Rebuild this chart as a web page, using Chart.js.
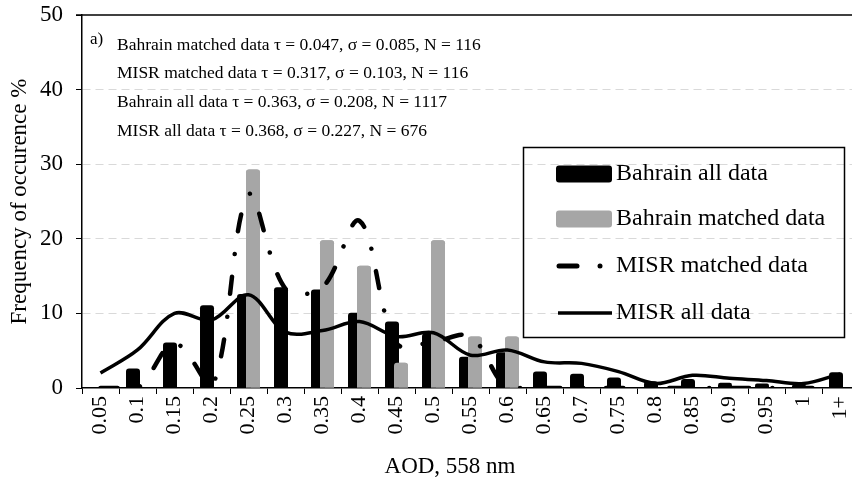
<!DOCTYPE html>
<html>
<head>
<meta charset="utf-8">
<script src="https://cdn.jsdelivr.net/npm/chart.js@4.4.1/dist/chart.umd.min.js"></script>
<style>
html, body { margin: 0; padding: 0; background: #fff; overflow: hidden; }
#wrap { width: 862px; height: 482px; }
canvas { display: block; }
</style>
</head>
<body>
<!-- the plot runs a few pixels past the right edge of the 852px picture -->
<div id="wrap"><canvas id="aodChart" width="862" height="482" style="width:862px;height:482px"></canvas></div>
<script>
// Data
const aodBins = ['0.05', '0.1', '0.15', '0.2', '0.25', '0.3', '0.35', '0.4', '0.45', '0.5', '0.55',
                 '0.6', '0.65', '0.7', '0.75', '0.8', '0.85', '0.9', '0.95', '1', '1+'];
const bahrainAll = [0, 2.6, 6.1, 11.1, 12.6, 13.5, 13.2, 10.1, 8.9, 7.3, 4.2,
                    4.8, 2.2, 1.9, 1.4, 0.9, 1.2, 0.7, 0.6, 0.4, 2.1];
const bahrainMatched = [0, 0, 0, 0, 29.3, 0, 19.8, 16.4, 3.4, 19.8, 6.9,
                        6.9, 0, 0, 0, 0, 0, 0, 0, 0, 0];
const misrMatched = [0, 0, 6.0, 0, 25.9, 13.3, 13.5, 22.4, 6.0, 6.2, 6.9,
                     0, 0, 0, 0, 0, 0, 0, 0, 0, 0];
const misrAll = [2.0, 5.1, 10.0, 9.1, 12.5, 7.5, 7.7, 8.9, 6.9, 7.4, 4.4,
                 5.1, 3.5, 3.3, 2.2, 0.6, 1.7, 1.3, 1.0, 0.6, 1.9];
const yTicks = [0, 10, 20, 30, 40, 50];

const seriesNames = ['Bahrain all data', 'Bahrain matched data', 'MISR matched data', 'MISR all data'];
const statsLines = [
    'Bahrain matched data \u03c4 = 0.047, \u03c3 = 0.085, N = 116',
    'MISR matched data \u03c4 = 0.317, \u03c3 = 0.103, N = 116',
    'Bahrain all data \u03c4 = 0.363, \u03c3 = 0.208, N = 1117',
    'MISR all data \u03c4 = 0.368, \u03c3 = 0.227, N = 676'
];

const serif = '"Liberation Serif", "Times New Roman", serif';
const dashDot = [17, 23, 0.01, 23];

// Stats text in the top left of the plot, plus the x axis title
const statsText = {
    id: 'statsText',
    afterDraw(chart) {
        const { ctx, chartArea } = chart;
        ctx.save();
        ctx.fillStyle = '#000';
        ctx.textBaseline = 'middle';
        ctx.font = '17px ' + serif;
        ctx.fillText('a)', chartArea.left + 8, chartArea.top + 25);
        ctx.font = '17.5px ' + serif;
        statsLines.forEach((line, i) => {
            ctx.fillText(line, chartArea.left + 35, chartArea.top + 30 + i * 28.7);
        });
        ctx.font = '23px ' + serif;
        ctx.textAlign = 'center';
        ctx.fillText('AOD, 558 nm', 450, 467);
        ctx.restore();
    }
};

// Grey bars go over the black ones (they sit to the right and overlap a bit)
const greyOnTop = {
    id: 'greyOnTop',
    afterDatasetDraw(chart, args) {
        if (args.index === 2) {
            chart.getDatasetMeta(3).controller.draw();
        }
    }
};

// Boxed legend inside the plot
const boxLegend = {
    id: 'boxLegend',
    afterDraw(chart) {
        const { ctx, chartArea } = chart;
        const left = 523;
        const top = 147;
        ctx.save();
        ctx.lineWidth = 1.5;
        ctx.strokeStyle = '#000';
        ctx.strokeRect(left + 0.5, top + 0.5, 321, 190);
        const rows = [174, 219, 266, 313];
        const sx = 556;
        rows.forEach((y, i) => {
            ctx.setLineDash([]);
            if (i === 0 || i === 1) {
                ctx.fillStyle = i === 0 ? '#000' : '#a6a6a6';
                ctx.beginPath();
                ctx.roundRect(sx, y - 8.5, 56, 17, 3);
                ctx.fill();
            } else if (i === 2) {
                ctx.lineWidth = 5;
                ctx.lineCap = 'round';
                ctx.beginPath();
                ctx.moveTo(sx + 3, y);
                ctx.lineTo(sx + 21, y);
                ctx.stroke();
                ctx.beginPath();
                ctx.arc(sx + 44, y, 2.5, 0, Math.PI * 2);
                ctx.fillStyle = '#000';
                ctx.fill();
            } else {
                ctx.lineWidth = 3.5;
                ctx.lineCap = 'butt';
                ctx.beginPath();
                ctx.moveTo(sx + 2, y);
                ctx.lineTo(sx + 56, y);
                ctx.stroke();
            }
            ctx.fillStyle = '#000';
            ctx.font = '24px ' + serif;
            ctx.textBaseline = 'middle';
            ctx.fillText(seriesNames[i], sx + 60, y);
        });
        // solid line at the top of the value axis
        ctx.lineWidth = 1.5;
        ctx.beginPath();
        ctx.moveTo(chartArea.left - 6, chartArea.top);
        ctx.lineTo(chartArea.right, chartArea.top);
        ctx.stroke();
        ctx.restore();
    }
};

const ctx = document.getElementById('aodChart');

new Chart(ctx, {
    data: {
        labels: aodBins,
        datasets: [
            {
                type: 'line', label: seriesNames[3], data: misrAll, order: 0,
                borderColor: '#000', borderWidth: 3.5, tension: 0.35, pointRadius: 0, fill: false
            },
            {
                type: 'line', label: seriesNames[2], data: misrMatched, order: 1,
                borderColor: '#000', borderWidth: 4.5, borderDash: dashDot, borderCapStyle: 'round',
                tension: 0.35, pointRadius: 0, fill: false
            },
            {
                type: 'bar', label: seriesNames[0], data: bahrainAll, order: 2,
                backgroundColor: '#000', borderRadius: { topLeft: 3, topRight: 3 }, borderSkipped: 'bottom',
                categoryPercentage: 0.486, barPercentage: 1.556
            },
            {
                type: 'bar', label: seriesNames[1], data: bahrainMatched, order: 3,
                backgroundColor: '#a6a6a6', borderRadius: { topLeft: 3, topRight: 3 }, borderSkipped: 'bottom',
                categoryPercentage: 0.486, barPercentage: 1.556
            }
        ]
    },
    options: {
        responsive: false,
        animation: false,
        devicePixelRatio: 1,
        layout: { padding: { top: 15, right: 3, left: 0, bottom: 0 } },
        plugins: {
            legend: { display: false },
            tooltip: { enabled: false }
        },
        scales: {
            x: {
                type: 'category',
                offset: true,
                afterFit: (scale) => { scale.height = 94; scale.paddingRight = 0; },
                grid: { drawOnChartArea: false, drawTicks: true, tickLength: 6, tickColor: '#000', offset: true },
                border: { color: '#000', width: 1.5 },
                ticks: {
                    color: '#000', font: { family: serif, size: 22 },
                    minRotation: 90, maxRotation: 90, autoSkip: false, padding: 2
                }
            },
            y: {
                min: yTicks[0],
                max: yTicks[yTicks.length - 1],
                afterFit: (scale) => { scale.width = 82; scale.paddingTop = 0; scale.paddingBottom = 0; },
                afterBuildTicks: (scale) => { scale.ticks = yTicks.map(v => ({ value: v })); },
                grid: {
                    color: (c) => (c.tick && (c.tick.value === 0 || c.tick.value === 50)) ? 'rgba(0,0,0,0)' : '#d9d9d9',
                    tickColor: '#000', tickLength: 6, tickBorderDash: [], lineWidth: 1
                },
                border: { color: '#000', width: 1.5, dash: [8, 5] },
                ticks: { color: '#000', font: { family: serif, size: 23 }, padding: 13 },
                title: {
                    display: true, text: 'Frequency of occurence %', color: '#000',
                    font: { family: serif, size: 23 }, padding: { top: 6, bottom: 0 }
                }
            }
        }
    },
    plugins: [greyOnTop, statsText, boxLegend]
});
</script>
</body>
</html>
